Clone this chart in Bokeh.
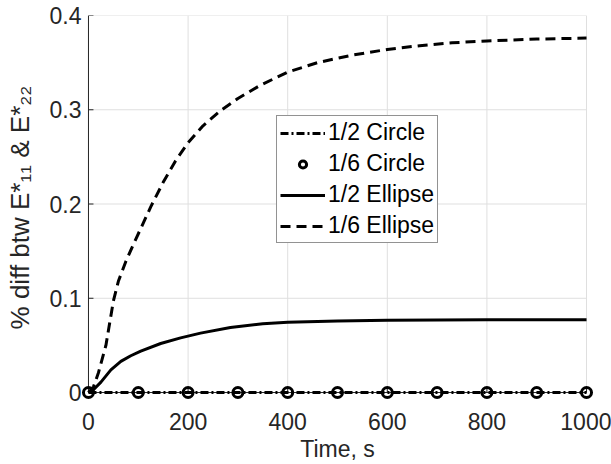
from bokeh.plotting import figure
from bokeh.models import Range1d, FixedTicker, Legend, LegendItem
from bokeh.embed import file_html
from bokeh.resources import INLINE

# ---- data ----
series_names = ["1/2 Circle", "1/6 Circle", "1/2 Ellipse", "1/6 Ellipse"]

time_c12 = [0, 1000]
pct_c12 = [0, 0]

time_c16 = [0, 100, 200, 300, 400, 500, 600, 700, 800, 900, 1000]
pct_c16 = [0, 0, 0, 0, 0, 0, 0, 0, 0, 0, 0]

time_e12 = [0, 10, 25, 45, 65, 85, 105, 145, 185, 225, 285, 350, 400, 500, 600, 800, 1000]
pct_e12 = [0, 0.003, 0.011, 0.024, 0.033, 0.039, 0.044, 0.052, 0.058, 0.063, 0.069,
           0.073, 0.0745, 0.076, 0.0768, 0.0772, 0.0773]

time_e16 = [0, 10, 20, 35, 50, 60, 75, 90, 105, 125, 150, 175, 200, 230, 265, 300,
            345, 400, 460, 530, 600, 665, 730, 800, 900, 1000]
pct_e16 = [0, 0.006, 0.021, 0.05, 0.097, 0.118, 0.139, 0.157, 0.174, 0.197, 0.223,
           0.246, 0.265, 0.283, 0.299, 0.312, 0.326, 0.340, 0.350, 0.358, 0.364,
           0.368, 0.371, 0.373, 0.375, 0.376]

x_ticks = [0, 200, 400, 600, 800, 1000]
y_ticks = [0, 0.1, 0.2, 0.3, 0.4]
y_tick_labels = ["0", "0.1", "0.2", "0.3", "0.4"]
x_title = "Time, s"
y_title = "% diff btw E*\u2081\u2081 & E*\u2082\u2082"

FONT = "Liberation Sans"
AX = "#262626"
GRID = "#dfdfdf"
TICK_LEN_X = 10      # inward tick length along x (data units, ~5 px)
TICK_LEN_Y = 0.0053  # inward tick length along y (data units, ~5 px)

p = figure(width=611, height=464, output_backend="svg", toolbar_location=None,
           x_range=Range1d(-14, 1014), y_range=Range1d(-0.0074, 0.4),
           min_border_left=81, min_border_right=18, min_border_top=15,
           min_border_bottom=64)
p.outline_line_color = None
p.background_fill_color = "white"
p.xgrid.visible = False
p.ygrid.visible = False

n_x = len(x_ticks)
n_y = len(y_ticks)
# grid lines (from the tick lists)
p.segment(x0=x_ticks, y0=[y_ticks[0]] * n_x, x1=x_ticks, y1=[y_ticks[-1]] * n_x,
          line_color=GRID, line_width=1)
p.segment(x0=[x_ticks[0]] * n_y, y0=y_ticks, x1=[x_ticks[-1]] * n_y, y1=y_ticks,
          line_color=GRID, line_width=1)
# axis lines at the data origin, with inward ticks
p.segment(x0=[x_ticks[0], x_ticks[0]], y0=[y_ticks[0], y_ticks[0]],
          x1=[x_ticks[0], x_ticks[-1]], y1=[y_ticks[-1], y_ticks[0]],
          line_color=AX, line_width=1)
p.segment(x0=[x_ticks[0]] * n_y, y0=y_ticks, x1=[x_ticks[0] + TICK_LEN_X] * n_y, y1=y_ticks,
          line_color=AX, line_width=1)
p.segment(x0=x_ticks, y0=[y_ticks[0]] * n_x, x1=x_ticks, y1=[y_ticks[0] + TICK_LEN_Y] * n_x,
          line_color=AX, line_width=1)

for ax in (p.xaxis[0], p.yaxis[0]):
    ax.axis_line_color = None
    ax.major_tick_line_color = None
    ax.major_tick_in = 0
    ax.major_tick_out = 0
    ax.minor_tick_line_color = None
    ax.major_label_text_font = FONT
    ax.major_label_text_font_size = "23px"
    ax.major_label_text_color = AX
    ax.axis_label_text_font = FONT
    ax.axis_label_text_font_style = "normal"
    ax.axis_label_text_color = AX

p.xaxis.ticker = FixedTicker(ticks=x_ticks)
p.xaxis.major_label_standoff = 13
p.xaxis.axis_label = x_title
p.xaxis.axis_label_text_font_size = "23px"
p.xaxis.axis_label_standoff = 3

p.yaxis.ticker = FixedTicker(ticks=y_ticks)
p.yaxis.major_label_overrides = {t: s for t, s in zip(y_ticks, y_tick_labels)}
p.yaxis.major_label_standoff = 0
p.yaxis.axis_label = y_title
p.yaxis.axis_label_text_font_size = "26px"
p.yaxis.axis_label_standoff = 12

# series
r_c12 = p.line(time_c12, pct_c12, line_color="black", line_width=3, line_dash="8 3 2 3")
r_c16 = p.scatter(time_c16, pct_c16, marker="circle", size=10, line_color="black",
                  line_width=3, fill_color=None)
r_e12 = p.line(time_e12, pct_e12, line_color="black", line_width=3)
r_e16 = p.line(time_e16, pct_e16, line_color="black", line_width=3, line_dash="10 6")

legend = Legend(items=[LegendItem(label=n, renderers=[r]) for n, r in
                       zip(series_names, [r_c12, r_c16, r_e12, r_e16])],
                location=(195, 156))
legend.label_text_font = FONT
legend.label_text_font_size = "23px"
legend.label_text_color = "black"
legend.glyph_width = 45
legend.glyph_height = 18
legend.label_height = 26
legend.label_standoff = 3
legend.spacing = 4
legend.padding = 3
legend.margin = 0
legend.border_line_color = AX
legend.border_line_width = 1
legend.background_fill_color = "white"
legend.background_fill_alpha = 1
p.add_layout(legend)

open("out.html", "w").write(file_html(p, INLINE))
